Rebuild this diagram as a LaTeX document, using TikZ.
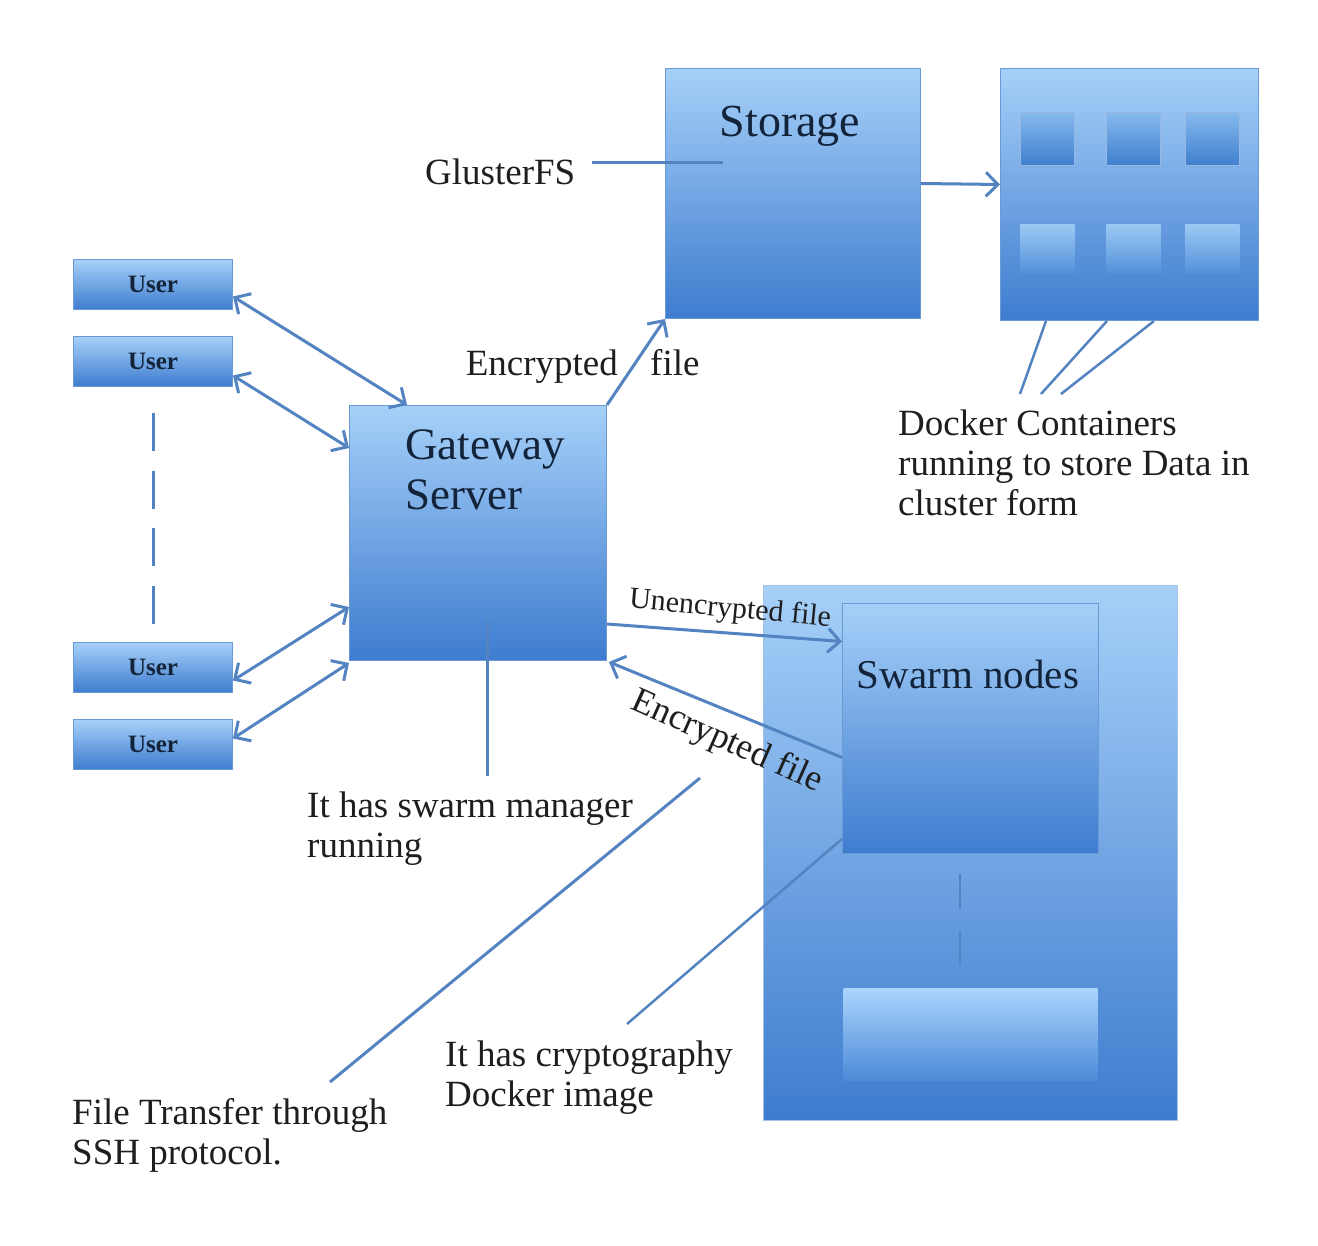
\documentclass[tikz,border=0pt]{standalone}
\usepackage{fontspec}
\setmainfont{Liberation Serif}
\usetikzlibrary{arrows.meta}
\definecolor{lineblue}{HTML}{5383C0}
\definecolor{boxtop}{HTML}{A6D0F8}
\definecolor{boxbot}{HTML}{3E7CCF}
\definecolor{boxedge}{HTML}{6A9AD6}
\definecolor{sqtop}{HTML}{86BAEE}
\definecolor{sqbot}{HTML}{3F7FCE}
\definecolor{sqtopb}{HTML}{9CC9F4}
\definecolor{sqbotb}{HTML}{5291DA}
\definecolor{lowtop}{HTML}{AAD4FC}
\definecolor{lowbot}{HTML}{4C8AD8}
\definecolor{navy}{HTML}{13243A}
\definecolor{ink}{HTML}{1E1E1E}
\begin{document}
\begin{tikzpicture}[x=1pt,y=-1pt,
  box/.style={draw=boxedge, line width=1pt, top color=boxtop, bottom color=boxbot,
    inner sep=0pt, anchor=north west, rectangle},
  userbox/.style={box, minimum width=159pt, minimum height=50pt, text=navy,
    font=\fontsize{25}{28}\selectfont\bfseries},
  sq/.style={draw=boxedge!70, line width=0.6pt, top color=sqtop, bottom color=sqbot,
    inner sep=0pt, anchor=north west, minimum width=54pt, minimum height=53pt},
  sqb/.style={sq, draw=none, top color=sqtopb, bottom color=sqbotb, minimum height=49pt},
  conn/.style={draw=lineblue, line width=3pt},
  arr/.style={conn, -{Straight Barb[length=12pt,width=24pt,line width=3pt]}},
  biarr/.style={conn, {Straight Barb[length=12pt,width=24pt,line width=3pt]}-{Straight Barb[length=12pt,width=24pt,line width=3pt]}},
  lbl/.style={inner sep=0pt, text=ink, font=\fontsize{37}{40}\selectfont, align=left},
  boxlbl/.style={inner sep=0pt, text=navy},
]
\useasboundingbox (0,0) rectangle (1318,1246);

% users
\node[userbox] (u1) at (73,259) {User};
\node[userbox] (u2) at (73,336) {User};
\node[userbox] (u3) at (73,642) {User};
\node[userbox] (u4) at (73,719) {User};
\coordinate (ud1) at (153,413);
\coordinate (ud2) at (153,624);
\draw[conn, dash pattern=on 38pt off 19.7pt] (ud1) -- (ud2);

% gateway
\node[box, minimum width=257pt, minimum height=255pt] (gw) at (349,405) {};
\node[boxlbl, anchor=north west, align=left, font=\fontsize{45}{50}\selectfont] (gwt) at (405,430) {Gateway\\Server};

% storage
\node[box, minimum width=255pt, minimum height=250pt] (st) at (665,68) {};
\node[boxlbl, anchor=base, font=\fontsize{46}{50}\selectfont] (stt) at (790,137) {Storage};

% cluster
\node[box, minimum width=258pt, minimum height=252pt] (cl) at (1000,68) {};
\node[sq] (s1) at (1020,112) {};
\node[sq] (s2) at (1106,112) {};
\node[sq] (s3) at (1185,112) {};
\node[sqb] (s4) at (1020,224) {};
\node[sqb] (s5) at (1106,224) {};
\node[sqb] (s6) at (1185,224) {};

% swarm
\node[box, draw=boxedge!60, minimum width=414pt, minimum height=535pt] (sw) at (763,585) {};
\node[box, minimum width=256pt, minimum height=250pt] (sn) at (842,603) {};
\node[boxlbl, anchor=base, font=\fontsize{41}{46}\selectfont] (snt) at (968,688) {Swarm nodes};
\coordinate (sd1) at (960,874);
\coordinate (sd2) at (960,968);
\draw[draw=lineblue, line width=1.5pt, dash pattern=on 35pt off 22pt] (sd1) -- (sd2);
\node[box, draw=none, top color=lowtop, bottom color=lowbot, minimum width=254pt, minimum height=92pt] (lb) at (843,988) {};

% user arrows
\draw[biarr] ([yshift=-12pt]u1.east) -- ([xshift=58pt]gw.north west);
\draw[biarr] ([yshift=-14pt]u2.east) -- ([yshift=-43pt]gw.north west);
\draw[biarr] ([yshift=-13pt]u3.east) -- ([yshift=54pt]gw.south west);
\draw[biarr] ([yshift=6pt]u4.east) -- ([yshift=-2pt]gw.south west);

% gateway -> storage
\draw[arr] (gw.north east) -- (st.south west);
\node[lbl, anchor=base east] (enc1) at (618,376) {Encrypted};
\node[lbl, anchor=base west] (enc2) at (650,376) {file};

% GlusterFS
\node[lbl, anchor=base west] (gl) at (425,185) {GlusterFS};
\coordinate (glend) at (723,163);
\draw[conn] (gl.east |- glend) ++(17,0) -- (glend);

% storage -> cluster
\draw[arr] ([yshift=10pt]st.east) -- ([yshift=10pt]cl.west);

% docker containers
\node[lbl, anchor=north west] (dk) at (898,410) {Docker Containers\\running to store Data in\\cluster form};
\coordinate (d1) at (1020,394);
\coordinate (d2) at (1041,394);
\coordinate (d3) at (1061,394);
\draw[conn, line width=2.5pt] ([xshift=46pt]cl.south west) -- (d1);
\draw[conn, line width=2.5pt] ([xshift=107pt]cl.south west) -- (d2);
\draw[conn, line width=2.5pt] ([xshift=154pt]cl.south west) -- (d3);

% swarm manager
\coordinate (gm1) at (487,620);
\coordinate (gm2) at (487,776);
\draw[conn] (gm1) -- (gm2);
\node[lbl, anchor=north west] (sm) at (307,792) {It has swarm manager\\running};

% unencrypted
\draw[arr] ([yshift=-91pt]gw.east) -- ([yshift=87pt]sn.west);
\node[inner sep=0pt, text=ink, font=\fontsize{30}{34}\selectfont, rotate=-5.3] (un) at (730,610) {Unencrypted file};

% encrypted back
\draw[arr] ([yshift=-29pt]sn.west) -- ([xshift=2pt,yshift=-1pt]gw.south east);
\node[inner sep=0pt, text=ink, font=\fontsize{36}{40}\selectfont, rotate=-24] (en) at (727,742) {Encrypted file};

% SSH
\coordinate (ss1) at (700,778);
\coordinate (ss2) at (330,1082);
\draw[conn] (ss1) -- (ss2);
\node[lbl, anchor=north west] (ssh) at (72,1098) {File Transfer through\\SSH protocol.};

% cryptography
\coordinate (cr2) at (627,1024);
\draw[conn, line width=2.5pt] (sn.south west) ++(0,-15) -- (cr2);
\node[lbl, anchor=north west] (cr) at (445,1041) {It has cryptography\\Docker image};
\end{tikzpicture}
\end{document}
